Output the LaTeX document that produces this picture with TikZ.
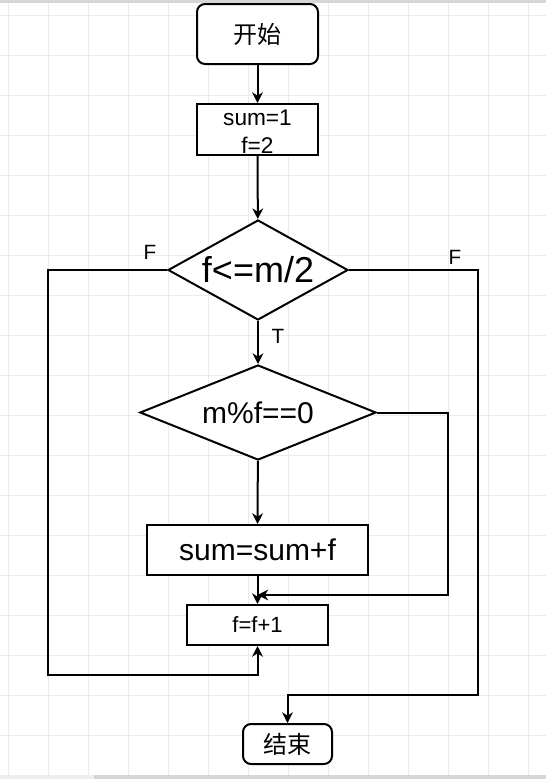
\documentclass[tikz,border=0pt]{standalone}
\usepackage{fontspec}
\setmainfont{Liberation Sans}
\newfontfamily\cjk{Noto Sans CJK SC}
\usetikzlibrary{shapes.geometric,arrows.meta}
\definecolor{gridc}{HTML}{EBEBEB}
\definecolor{barc}{HTML}{D6D6D6}
\definecolor{barl}{HTML}{EEEEEE}
\tikzset{
  box/.style={draw=black, line width=1.5pt, rectangle, inner sep=0pt, fill=white, align=center},
  rbox/.style={box, rounded corners=6pt},
  dia/.style={draw=black, line width=1.5pt, diamond, inner sep=0pt, fill=white},
  conn/.style={line width=1.5pt, -{Stealth[length=8pt,width=8pt,inset=2.5pt]}},
  lbl/.style={font=\fontsize{15.5}{18}\selectfont, inner sep=0pt}
}
\begin{document}
\begin{tikzpicture}[x=0.75pt,y=-0.75pt]
\useasboundingbox (0,0) rectangle (546,779);
\fill[white] (0,0) rectangle (546,779);
% grid
\foreach \gx in {8,48,...,528} \draw[gridc, line width=0.75pt] (\gx,0) -- (\gx,779);
\foreach \gy in {15,55,...,775} \draw[gridc, line width=0.75pt] (0,\gy) -- (546,\gy);
% window bars
\fill[barc] (0,0) rectangle (546,3);
\fill[barl] (0,775) rectangle (94,779);
\fill[barc] (94,775) rectangle (546,779);

% nodes
\node[rbox, minimum width=90.75pt, minimum height=45pt, font=\cjk\fontsize{18}{21}\selectfont] (start) at (257.5,34) {开始};
\node[box, minimum width=90.75pt, minimum height=38.25pt, label={[font=\fontsize{17}{21}\selectfont, align=center, yshift=-2pt]center:sum=1\\f=2}] (init) at (257.5,129.5) {};
\node[dia, minimum width=135pt, minimum height=75pt, label={[font=\fontsize{27}{30}\selectfont]center:f<=m/2}] (d1) at (258,270) {};
\node[dia, minimum width=177pt, minimum height=71.25pt, label={[font=\fontsize{22.5}{26}\selectfont]center:m\%f==0}] (d2) at (258,412.5) {};
\node[box, minimum width=165.75pt, minimum height=37.5pt, font=\fontsize{22.5}{26}\selectfont] (sumb) at (257.5,550) {sum=sum+f};
\node[box, minimum width=105.75pt, minimum height=30pt, font=\fontsize{16.5}{19}\selectfont] (inc) at (257.5,625) {f=f+1};
\node[rbox, minimum width=66.75pt, minimum height=30pt, font=\cjk\fontsize{18}{21}\selectfont] (stop) at (287.5,744) {结束};

% labels
\node[lbl] (fl) at (150,252) {F};
\node[lbl] (fr) at (455,257) {F};
\node[lbl] (tl) at (278,336) {T};

% coordinates
\coordinate (jr) at (448,595);
\coordinate (jm) at (257.5,595);
\coordinate (ll) at (48,675);
\coordinate (rr) at (478,695);

% connectors
\draw[conn] (start) -- (init);
\draw[conn] (init) -- (d1);
\draw[conn] (d1) -- (d2);
\draw[conn] (d2) -- (sumb);
\draw[conn] (sumb) -- (inc);
\draw[conn] (d2.east) -| (jr) -- (jm);
\draw[conn] (d1.west) -| (ll) -| (inc.south);
\draw[conn] (d1.east) -| (rr) -| (stop.north);
\end{tikzpicture}
\end{document}
